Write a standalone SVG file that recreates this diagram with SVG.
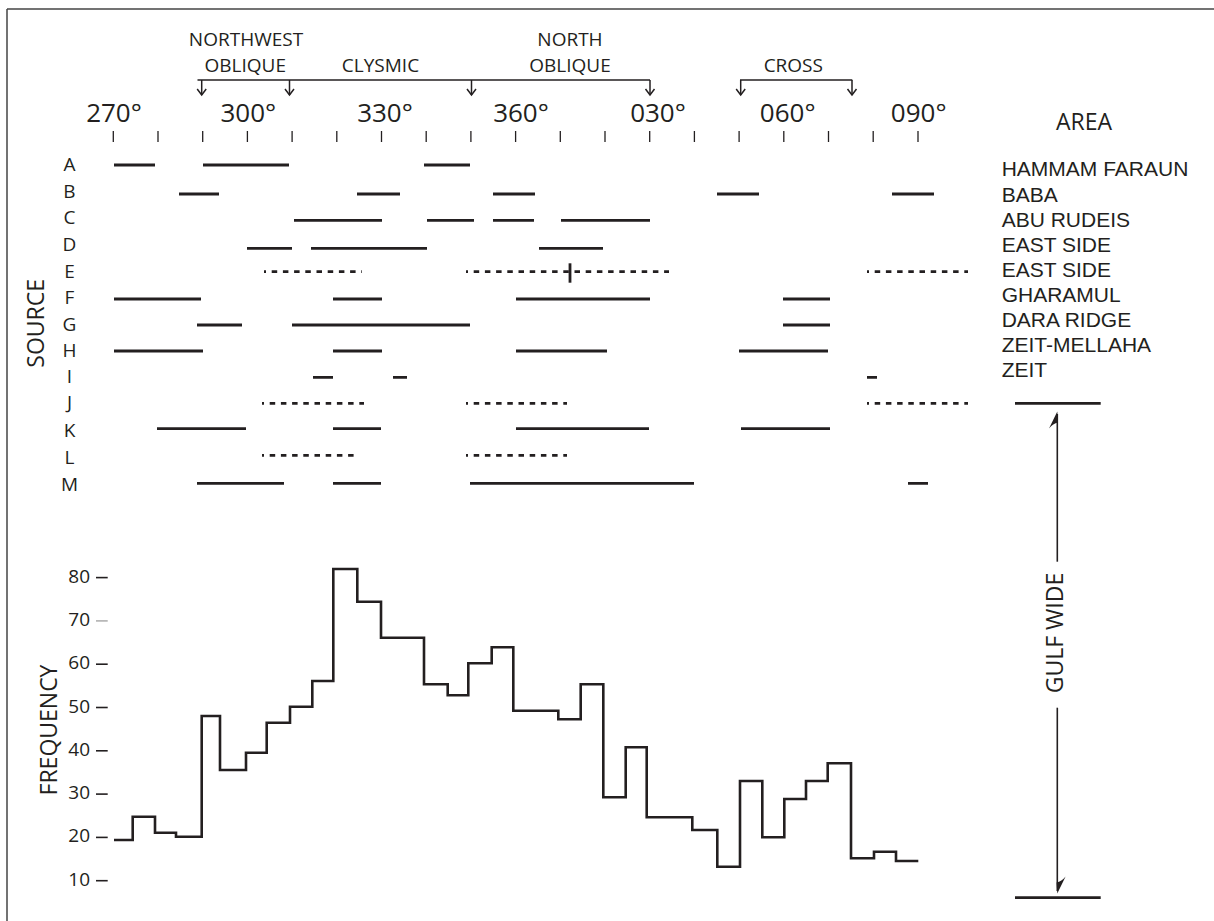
<svg xmlns="http://www.w3.org/2000/svg" width="1214" height="921" viewBox="0 0 1214 921">
  <style>
    text { font-family: "Open Sans", "Liberation Sans", sans-serif; fill: #231f20; }
    .deg { font-size: 26px; text-anchor: middle; }
    .cls { font-size: 19px; text-anchor: middle; }
    .row { font-size: 19px; text-anchor: middle; }
    .area { font-family: "Liberation Sans", Arial, sans-serif; font-size: 21px; }
    .axis { font-size: 19px; text-anchor: end; }
    .title { font-size: 23px; text-anchor: middle; }
    .tick { stroke: #231f20; stroke-width: 1.3; }
    .seg { stroke: #231f20; stroke-width: 2.8; fill: none; }
    .dash { stroke: #231f20; stroke-width: 2.8; fill: none; stroke-dasharray: 5.5 5.7; stroke-dashoffset: 3.5; }
    .brk { stroke: #231f20; stroke-width: 1.5; fill: none; }
    .hist { stroke: #231f20; stroke-width: 2.6; fill: none; stroke-linejoin: miter; }
    .ytick { stroke: #231f20; stroke-width: 1.6; }
    .bar { stroke: #231f20; stroke-width: 2.8; }
    .lead { stroke: #231f20; stroke-width: 1.6; fill: none; }
  </style>
  <defs>
    <marker id="vtip" markerUnits="userSpaceOnUse" viewBox="-8 -6 9 12" markerWidth="9" markerHeight="12" refX="0" refY="0" orient="auto" overflow="visible">
      <path d="M-6,-4.5 L0,0 L-6,4.5" fill="none" stroke="#231f20" stroke-width="1.5"/>
    </marker>
  </defs>

  <rect width="1214" height="921" fill="#ffffff"/>

  <!-- frame edges -->
  <g id="frame" stroke="#444" stroke-width="1.5">
    <line x1="7" y1="9" x2="1214" y2="9"/>
    <line x1="7" y1="9" x2="7" y2="921"/>
  </g>

  <!-- azimuth scale -->
  <g id="scale">
    <g class="tick">
      <line x1="113.3" y1="131" x2="113.3" y2="142"/>
      <line x1="158" y1="131" x2="158" y2="142"/>
      <line x1="202.7" y1="131" x2="202.7" y2="142"/>
      <line x1="247.4" y1="131" x2="247.4" y2="142"/>
      <line x1="292.1" y1="131" x2="292.1" y2="142"/>
      <line x1="336.8" y1="131" x2="336.8" y2="142"/>
      <line x1="381.5" y1="131" x2="381.5" y2="142"/>
      <line x1="426.2" y1="131" x2="426.2" y2="142"/>
      <line x1="470.9" y1="131" x2="470.9" y2="142"/>
      <line x1="515.6" y1="131" x2="515.6" y2="142"/>
      <line x1="560.3" y1="131" x2="560.3" y2="142"/>
      <line x1="605" y1="131" x2="605" y2="142"/>
      <line x1="649.7" y1="131" x2="649.7" y2="142"/>
      <line x1="694.4" y1="131" x2="694.4" y2="142"/>
      <line x1="739.1" y1="131" x2="739.1" y2="142"/>
      <line x1="783.8" y1="131" x2="783.8" y2="142"/>
      <line x1="828.5" y1="131" x2="828.5" y2="142"/>
      <line x1="873.2" y1="131" x2="873.2" y2="142"/>
      <line x1="918" y1="131" x2="918" y2="142"/>
    </g>
    <text class="deg" x="114" y="122">270°</text>
    <text class="deg" x="248.3" y="122">300°</text>
    <text class="deg" x="385" y="122">330°</text>
    <text class="deg" x="521" y="122">360°</text>
    <text class="deg" x="658" y="122">030°</text>
    <text class="deg" x="787.7" y="122">060°</text>
    <text class="deg" x="918.7" y="122">090°</text>
    <text x="1084" y="130" style="font-size:23px;text-anchor:middle">AREA</text>
  </g>

  <!-- fracture-set labels -->
  <g id="sets">
    <text class="cls" x="246" y="45.7">NORTHWEST</text>
    <text class="cls" x="245.3" y="71.7">OBLIQUE</text>
    <text class="cls" x="380.5" y="72">CLYSMIC</text>
    <text class="cls" x="570" y="45.7">NORTH</text>
    <text class="cls" x="570" y="72">OBLIQUE</text>
    <text class="cls" x="793.3" y="72">CROSS</text>
  </g>

  <!-- set range brackets -->
  <g id="connectors">
    <line class="brk" x1="197.5" y1="80" x2="650" y2="80"/>
    <line class="brk" x1="740" y1="80" x2="852.3" y2="80"/>
    <line class="brk" x1="201.7" y1="80" x2="201.7" y2="95" marker-end="url(#vtip)"/>
    <line class="brk" x1="289.5" y1="80" x2="289.5" y2="95" marker-end="url(#vtip)"/>
    <line class="brk" x1="471.5" y1="80" x2="471.5" y2="95" marker-end="url(#vtip)"/>
    <line class="brk" x1="650" y1="80" x2="650" y2="95" marker-end="url(#vtip)"/>
    <line class="brk" x1="740.7" y1="80" x2="740.7" y2="95" marker-end="url(#vtip)"/>
    <line class="brk" x1="852" y1="80" x2="852" y2="95" marker-end="url(#vtip)"/>
  </g>

  <text class="title" transform="translate(44,323.3) rotate(-90)">SOURCE</text>

  <!-- source rows -->
  <g id="row-A">
    <text class="row" x="69.5" y="170.7">A</text>
    <path class="seg" d="M114,165H155M203,165H289M424,165H470"/>
    <text class="area" x="1001.7" y="176">HAMMAM FARAUN</text>
  </g>
  <g id="row-B">
    <text class="row" x="69.5" y="197.7">B</text>
    <path class="seg" d="M179,194H219M357,194H400M493,194H535M717,194H759M892,194H934"/>
    <text class="area" x="1001.7" y="202">BABA</text>
  </g>
  <g id="row-C">
    <text class="row" x="69.5" y="224.3">C</text>
    <path class="seg" d="M294,220.3H382M427,220.3H474M493,220.3H534M561,220.3H650"/>
    <text class="area" x="1001.7" y="227">ABU RUDEIS</text>
  </g>
  <g id="row-D">
    <text class="row" x="69.5" y="251">D</text>
    <path class="seg" d="M247,248.3H292M311,248.3H427M539,248.3H603"/>
    <text class="area" x="1001.7" y="252">EAST SIDE</text>
  </g>
  <g id="row-E">
    <text class="row" x="69.5" y="277.7">E</text>
    <path class="dash" d="M264,271.7H362M466,271.7H669M867,271.7H968"/>
    <line class="seg" x1="570" y1="263.3" x2="570" y2="282.7"/>
    <text class="area" x="1001.7" y="277">EAST SIDE</text>
  </g>
  <g id="row-F">
    <text class="row" x="69.5" y="304">F</text>
    <path class="seg" d="M114,299H201M333,299H382M516,299H650M783,299H830"/>
    <text class="area" x="1001.7" y="302">GHARAMUL</text>
  </g>
  <g id="row-G">
    <text class="row" x="69.5" y="330.7">G</text>
    <path class="seg" d="M197,325H242M292,325H470M783,325H830"/>
    <text class="area" x="1001.7" y="327">DARA RIDGE</text>
  </g>
  <g id="row-H">
    <text class="row" x="69.5" y="356.7">H</text>
    <path class="seg" d="M114,351H203M333,351H382M516,351H607M739,351H828"/>
    <text class="area" x="1001.7" y="352">ZEIT-MELLAHA</text>
  </g>
  <g id="row-I">
    <text class="row" x="69.5" y="383.3">I</text>
    <path class="seg" d="M313,377.3H333M393,377.3H407M867,377.3H877"/>
    <text class="area" x="1001.7" y="377">ZEIT</text>
  </g>
  <g id="row-J">
    <text class="row" x="69.5" y="409">J</text>
    <path class="dash" d="M262,403.3H364M466,403.3H567M867,403.3H968"/>
  </g>
  <g id="row-K">
    <text class="row" x="69.5" y="437.3">K</text>
    <path class="seg" d="M157,428.7H246M333,428.7H381M516,428.7H649M741,428.7H830"/>
  </g>
  <g id="row-L">
    <text class="row" x="69.5" y="464">L</text>
    <path class="dash" d="M262,455.3H358M466,455.3H567"/>
  </g>
  <g id="row-M">
    <text class="row" x="69.5" y="490.7">M</text>
    <path class="seg" d="M197,483.3H284M333,483.3H381M470,483.3H694M908,483.3H928"/>
  </g>

  <!-- gulf-wide range marker -->
  <g id="gulf-wide">
    <line class="bar" x1="1015" y1="403.3" x2="1100.7" y2="403.3"/>
    <line class="bar" x1="1015" y1="897.7" x2="1100.7" y2="897.7"/>
    <line class="lead" x1="1057.3" y1="414" x2="1057.3" y2="561.7"/>
    <line class="lead" x1="1057.3" y1="707.7" x2="1057.3" y2="891"/>
    <path d="M1057.3,411.5 L1049,428.5 Q1053,423.5 1058,422.5 Z" fill="#231f20"/>
    <path d="M1057.3,893.5 L1065.6,876.5 Q1061.6,881.5 1056.6,882.5 Z" fill="#231f20"/>
    <text class="title" transform="translate(1063.3,633) rotate(-90)">GULF WIDE</text>
  </g>

  <!-- frequency axis -->
  <g id="frequency-axis">
    <text class="title" transform="translate(56.5,730) rotate(-90)">FREQUENCY</text>
    <line class="ytick" x1="96" y1="577.6" x2="107.7" y2="577.6"/>
    <line x1="96" y1="620.9" x2="107.7" y2="620.9" stroke="#b0b0b0" stroke-width="1.6"/>
    <line class="ytick" x1="96" y1="664.2" x2="107.7" y2="664.2"/>
    <line class="ytick" x1="96" y1="707.5" x2="107.7" y2="707.5"/>
    <line class="ytick" x1="96" y1="750.8" x2="107.7" y2="750.8"/>
    <line class="ytick" x1="96" y1="794.1" x2="107.7" y2="794.1"/>
    <line class="ytick" x1="96" y1="837.4" x2="107.7" y2="837.4"/>
    <line class="ytick" x1="96" y1="880.7" x2="107.7" y2="880.7"/>
    <text class="axis" x="90" y="582.6">80</text>
    <text class="axis" x="90" y="625.9">70</text>
    <text class="axis" x="90" y="669.2">60</text>
    <text class="axis" x="90" y="712.5">50</text>
    <text class="axis" x="90" y="755.8">40</text>
    <text class="axis" x="90" y="799.1">30</text>
    <text class="axis" x="90" y="842.4">20</text>
    <text class="axis" x="90" y="885.7">10</text>
  </g>

  <!-- frequency histogram -->
  <g id="histogram">
    <path class="hist" d="M114,840 H132.7 V816.7 H155 V832.7 H176 V836.7 H201.7 V716 H220 V770 H246 V752.7 H266.7 V722.7 H290 V706.7 H312.3 V681 H333.3 V569 H357.3 V601.7 H381 V637.7 H424 V684.3 H447.7 V695.3 H468.3 V663.3 H491.7 V647.3 H513.3 V710.7 H558.3 V719.3 H580.7 V684.3 H603.3 V797.3 H625.7 V747.3 H646.7 V817.3 H692.3 V830 H717.3 V866.7 H740 V781 H762.3 V837.3 H784.3 V799 H806 V781 H827.7 V763.3 H851 V858.3 H874 V851.7 H896 V861 H918.3"/>
  </g>
</svg>
